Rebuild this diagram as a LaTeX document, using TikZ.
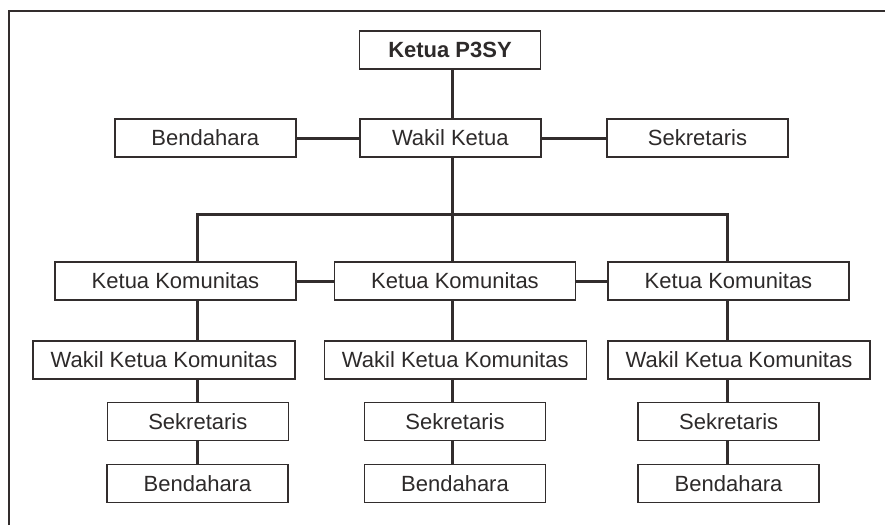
\documentclass[tikz,border=0pt]{standalone}
\usepackage{fontspec}
\setmainfont{Liberation Sans}
\usetikzlibrary{positioning}

\definecolor{inkline}{RGB}{50,45,45}
\definecolor{inktext}{RGB}{45,42,42}

\tikzset{
    unit/.style={draw=inkline, line width=1.5pt, fill=white, text=inktext,
        minimum height=38pt, minimum width=181pt, inner sep=0pt,
        font=\fontsize{22}{26}\selectfont},
    wideunit/.style={unit, minimum width=241pt},
    widerunit/.style={unit, minimum width=262pt},
    link/.style={draw=inkline, line width=3pt},
}

\begin{document}
\begin{tikzpicture}[x=1pt, y=-1pt]
                \useasboundingbox (0,0) rectangle (885,525);

                % frame
                \draw[inkline, line width=2pt] (9,525) -- (9,11) -- (885,11);

                % pengurus pusat
                \node[unit, font=\fontsize{22}{26}\selectfont\bfseries] (ketua) at (450,50) {Ketua P3SY};
                \node[unit] (wakil) at (450.3,138) {Wakil Ketua};
                \node[unit] (bendpusat) at (205.3,138) {Bendahara};
                \node[unit] (sekpusat) at (697.5,138) {Sekretaris};

                % komunitas
                \node[wideunit] (kk1) at (175.5,281) {Ketua Komunitas};
                \node[wideunit] (kk2) at (455,281) {Ketua Komunitas};
                \node[wideunit] (kk3) at (728.5,281) {Ketua Komunitas};

                \node[widerunit] (wkk1) at (164,360) {Wakil Ketua Komunitas};
                \node[widerunit] (wkk2) at (455.3,360) {Wakil Ketua Komunitas};
                \node[widerunit] (wkk3) at (739,360) {Wakil Ketua Komunitas};

                \node[unit] (sek1) at (197.8,421.7) {Sekretaris};
                \node[unit] (sek2) at (455,421.7) {Sekretaris};
                \node[unit] (sek3) at (728.7,421.7) {Sekretaris};

                \node[unit] (bend1) at (197.5,483.5) {Bendahara};
                \node[unit] (bend2) at (455,483.5) {Bendahara};
                \node[unit] (bend3) at (728.5,483.5) {Bendahara};

                % columns and bus
                \coordinate (col1) at (197,214);
                \coordinate (col2) at (452,214);
                \coordinate (col3) at (727,214);

                \draw[link] (ketua.south -| col2) -- (wakil.north -| col2);
                \draw[link] (bendpusat.east) -- (wakil.west);
                \draw[link] (wakil.east) -- (sekpusat.west);

                \draw[link] (wakil.south -| col2) -- (kk2.north -| col2);
                \draw[link] (kk1.north -| col1) -- (col1) -- (col3) -- (kk3.north -| col3);

                \draw[link] (kk1.east) -- (kk2.west);
                \draw[link] (kk2.east) -- (kk3.west);

                \foreach \c in {1,2,3}{
                    \draw[link] (kk\c.south -| col\c) -- (wkk\c.north -| col\c);
                    \draw[link] (wkk\c.south -| col\c) -- (sek\c.north -| col\c);
                    \draw[link] (sek\c.south -| col\c) -- (bend\c.north -| col\c);
                }
            \end{tikzpicture}
\end{document}
